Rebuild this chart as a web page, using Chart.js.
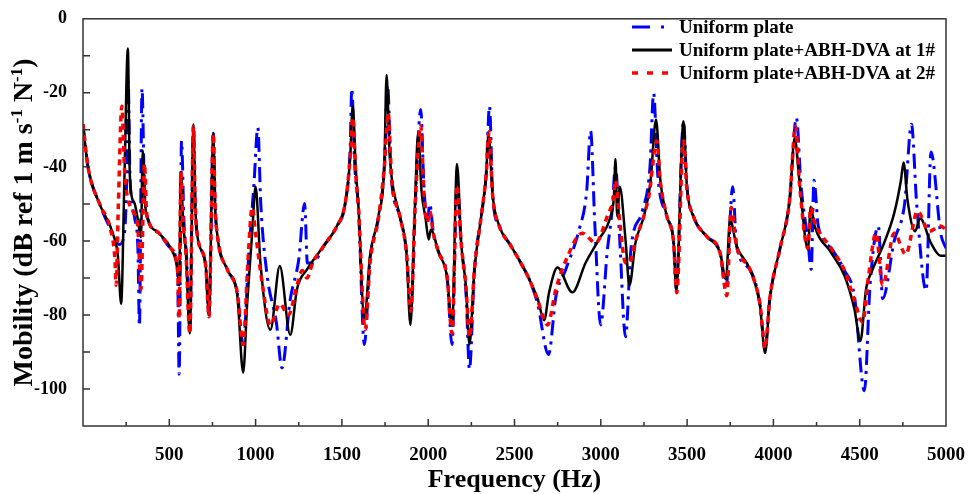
<!DOCTYPE html>
<html>
<head>
<meta charset="utf-8">
<script src="https://cdn.jsdelivr.net/npm/chart.js@4"></script>
<style>
html,body{margin:0;padding:0;background:#fff}
canvas{display:block}
</style>
</head>
<body>
<canvas id="chart" width="975" height="494"></canvas>
<script>
// Data (frequency in Hz, mobility in dB)
const seriesNames = ['Uniform plate', 'Uniform plate+ABH-DVA at 1#', 'Uniform plate+ABH-DVA at 2#'];

const freqPlate = [0,29,96,173,210,240,255,262,272,300,318,327,342,355,375,442,509,548,557,571,585,600,619,640,650,663,711,730,755,765,779,836,894,928,960,990,1013,1030,1067,1120,1153,1200,1250,1284,1300,1330,1394,1471,1519,1548,1557,1575,1596,1630,1663,1711,1746,1765,1785,1836,1874,1900,1925,1957,1975,1995,2009,2030,2060,2110,2138,2167,2191,2220,2239,2268,2307,2336,2355,2374,2412,2480,2537,2585,2634,2697,2740,2797,2874,2918,2941,2965,2999,3037,3065,3085,3110,3143,3175,3240,3285,3306,3330,3383,3422,3437,3479,3499,3537,3614,3691,3725,3764,3787,3864,3922,3952,3979,4037,4094,4133,4160,4200,4219,4235,4260,4335,4412,4469,4527,4560,4608,4633,4700,4760,4800,4830,4885,4913,4969,5000];
const dbPlate   = [-28.5,-40,-50,-58,-61,-58,-40,-17,-42,-54,-62,-83,-18.8,-45,-54,-58,-62,-68,-96,-33,-55,-64,-85,-29,-50,-58.7,-66.7,-80,-31,-50,-58.7,-67.7,-74,-88,-64,-45,-29.4,-50,-69.4,-82,-94.3,-76,-65,-49.9,-66,-66,-61.4,-56,-49.9,-35,-18.8,-40,-51,-88,-65,-54,-40,-18,-42,-53.4,-63,-79,-50,-24.5,-45,-55,-50,-58,-63,-70,-88,-45,-60.5,-75,-94.7,-67.7,-53.4,-42,-23.6,-48,-56,-61.4,-66,-70.3,-77,-90.7,-75,-67.7,-57,-46.6,-30.3,-55,-82.7,-63,-52,-40,-60,-85.9,-62,-52,-40,-20.1,-42,-53.4,-60.5,-73,-27.7,-45.4,-53.4,-58.8,-63.2,-73,-45.4,-61.4,-67.7,-77,-89,-75.6,-62.3,-49,-26.7,-45,-60,-67.7,-43.6,-56,-62,-68,-74.8,-100.5,-72,-56,-75.6,-60,-50,-28.5,-50,-73.4,-36,-57.9,-62];

const freqDva1 = [0,29,96,173,202,221,240,260,270,279,300,317,336,346,360,375,442,509,548,557,567,580,596,619,640,650,663,711,730,755,765,779,836,894,928,951,980,1000,1028,1086,1140,1201,1240,1298,1394,1471,1519,1548,1563,1580,1596,1630,1663,1711,1746,1759,1775,1788,1836,1874,1897,1920,1942,1961,1985,2003,2015,2060,2110,2138,2167,2191,2220,2239,2268,2307,2336,2349,2374,2412,2480,2537,2585,2634,2672,2700,2749,2835,2912,2989,3056,3076,3085,3095,3110,3143,3166,3201,3249,3287,3320,3345,3383,3422,3437,3479,3499,3537,3614,3691,3725,3749,3787,3864,3922,3952,3979,4037,4094,4123,4152,4200,4216,4239,4335,4412,4469,4504,4537,4575,4642,4700,4739,4754,4777,4821,4850,4912,4969,5000];
const dbDva1   = [-28.5,-40,-50,-58,-64,-77,-43,-8,-40,-47,-50,-54,-59,-35.6,-50,-54,-58,-62,-67.7,-72,-41.4,-55,-63,-85,-28.5,-50,-58.7,-66.7,-80,-30.8,-50,-58.7,-67.7,-74.8,-95.6,-77,-58,-45.4,-65.9,-84,-66.8,-85.4,-73,-67.7,-61.4,-56,-49.9,-37.4,-23.6,-40,-50.8,-81,-64,-53.4,-39.2,-15.2,-35,-42.7,-53.4,-63.2,-82.7,-55,-30.8,-46.3,-54,-59.6,-57,-63,-70,-83,-39.2,-60.5,-73,-88,-67.7,-53.4,-41.9,-31.2,-48,-56,-61.4,-66,-70.3,-75.6,-81.4,-74,-67.2,-73.9,-65.9,-59.6,-53.4,-48,-37.9,-53.4,-45.4,-59.6,-72,-60.5,-53.4,-44.5,-27.2,-43.6,-53.4,-60.5,-73.4,-27.7,-45.4,-53.4,-58.8,-63.2,-70.3,-54.3,-61.4,-67.7,-77.4,-90.3,-75.6,-62.3,-49,-32.1,-44.5,-62.3,-50.8,-56,-63.2,-69.4,-78.3,-87,-73,-67.7,-60.5,-52.5,-43.6,-38.8,-49,-57.4,-53.9,-60.5,-64,-64];

const freqDva2 = [0,29,96,160,185,192,205,225,240,250,290,317,336,356,368,375,442,509,548,557,567,580,596,619,640,650,663,711,730,755,765,779,836,894,928,955,980,1000,1040,1086,1140,1190,1240,1270,1298,1330,1394,1471,1519,1548,1563,1580,1596,1635,1663,1711,1746,1768,1788,1836,1874,1900,1925,1957,1975,1995,2009,2030,2060,2110,2138,2167,2191,2220,2239,2268,2307,2336,2352,2374,2412,2480,2537,2585,2634,2691,2740,2800,2893,2970,3040,3075,3085,3110,3143,3165,3201,3278,3325,3345,3383,3422,3440,3479,3499,3537,3614,3691,3730,3755,3787,3864,3922,3952,3979,4037,4094,4128,4152,4200,4216,4239,4335,4412,4469,4517,4550,4594,4633,4700,4767,4835,4902,4969,5000];
const dbDva2   = [-28.5,-40,-50,-57,-65,-72,-50,-23.6,-40,-46,-52,-56,-73,-39.2,-52,-54,-58,-62,-68,-81,-41.4,-55,-63,-85,-29,-50,-58.7,-66.7,-80.5,-31,-50,-58.7,-67.7,-74,-88,-66,-51,-58,-72,-82.7,-77,-80,-72,-68,-70,-66,-61.4,-56,-49.9,-37.4,-26.7,-42,-51,-84,-66,-54,-40,-25.4,-43,-53.4,-63,-79,-50,-28.8,-47,-55,-52,-58,-63,-70,-85,-45,-60.5,-73,-86,-67.7,-53.4,-42,-30.5,-48,-56,-61.4,-66,-70.3,-76,-82.7,-73,-65,-57.9,-60.5,-53,-48,-43.6,-55,-65.9,-66,-60,-48,-33,-44,-53.4,-60.5,-74,-33,-46,-53.4,-58.8,-63.2,-74.8,-51,-61.4,-67.7,-77,-89,-75.6,-62.3,-49,-29,-45,-62,-51,-55,-62,-68,-76,-81.9,-70,-57.9,-72,-57.9,-63.6,-52,-57.4,-56,-57];

const xTickValues = [500,1000,1500,2000,2500,3000,3500,4000,4500,5000];
const yTickValues = [0,-20,-40,-60,-80,-100];

const pts = (f, d) => f.map((v, i) => ({x: v, y: d[i]}));
const serif = "'Liberation Serif','Times New Roman',serif";

// frame, inward ticks, titles and legend
const decor = {
  id: 'decor',
  afterDraw(chart) {
    const {ctx, chartArea: a, scales: {x, y}} = chart;
    ctx.save();
    ctx.strokeStyle = '#333';
    ctx.lineWidth = 1.5;
    ctx.strokeRect(a.left, a.top, a.right - a.left, a.bottom - a.top);
    ctx.beginPath();
    for (let v = 250; v < 5000; v += 250) {
      const px = x.getPixelForValue(v), len = v % 500 === 0 ? 7 : 4;
      ctx.moveTo(px, a.bottom); ctx.lineTo(px, a.bottom - len);
    }
    for (let v = -100; v <= -10; v += 10) {
      const py = y.getPixelForValue(v);
      ctx.moveTo(a.left, py); ctx.lineTo(a.left + 7, py);
    }
    ctx.stroke();

    // x title
    ctx.fillStyle = '#000';
    ctx.font = 'bold 26px ' + serif;
    ctx.textAlign = 'center';
    ctx.textBaseline = 'alphabetic';
    ctx.fillText('Frequency (Hz)', (a.left + a.right) / 2, 487);

    // y title with superscripts
    const parts = [['Mobility (dB ref 1 m s', 0], ['-1', 1], [' N', 0], ['-1', 1], [')', 0]];
    const big = 'bold 28px ' + serif, small = 'bold 17px ' + serif;
    let total = 0;
    parts.forEach(p => { ctx.font = p[1] ? small : big; total += ctx.measureText(p[0]).width; });
    ctx.translate(32, (a.top + a.bottom) / 2);
    ctx.rotate(-Math.PI / 2);
    ctx.textAlign = 'left';
    let cx = -total / 2;
    parts.forEach(p => {
      ctx.font = p[1] ? small : big;
      ctx.fillText(p[0], cx, p[1] ? -10 : 0);
      cx += ctx.measureText(p[0]).width;
    });
    ctx.setTransform(1, 0, 0, 1, 0, 0);

    // legend
    const rows = [27, 50, 73];
    ctx.font = 'bold 19px ' + serif;
    ctx.textBaseline = 'middle';
    ctx.textAlign = 'left';
    seriesNames.forEach((n, i) => ctx.fillText(n, 679, rows[i] + 1));
    ctx.lineCap = 'butt';
    ctx.strokeStyle = '#0000ff'; ctx.lineWidth = 3;
    ctx.beginPath(); ctx.moveTo(632, rows[0]); ctx.lineTo(650, rows[0]);
    ctx.moveTo(661, rows[0]); ctx.lineTo(664, rows[0]); ctx.stroke();
    ctx.strokeStyle = '#000'; ctx.lineWidth = 3;
    ctx.beginPath(); ctx.moveTo(632, rows[1]); ctx.lineTo(672, rows[1]); ctx.stroke();
    ctx.strokeStyle = '#ff0000'; ctx.lineWidth = 3.5;
    ctx.beginPath();
    [632, 647, 662].forEach(s => { ctx.moveTo(s, rows[2]); ctx.lineTo(s + 6, rows[2]); });
    ctx.stroke();
    ctx.restore();
  }
};

new Chart(document.getElementById('chart'), {
  type: 'line',
  data: {
    datasets: [
      {label: seriesNames[0], data: pts(freqPlate, dbPlate), borderColor: '#0000ff', borderWidth: 3, borderDash: [15, 6, 3, 6], order: 3},
      {label: seriesNames[1], data: pts(freqDva1, dbDva1), borderColor: '#000000', borderWidth: 2.5, order: 2},
      {label: seriesNames[2], data: pts(freqDva2, dbDva2), borderColor: '#ff0000', borderWidth: 3.5, borderDash: [6, 5], order: 1}
    ]
  },
  options: {
    responsive: false,
    devicePixelRatio: 1,
    animation: false,
    layout: {padding: {top: 13, right: 24, left: 0, bottom: 0}},
    elements: {point: {radius: 0}, line: {cubicInterpolationMode: 'monotone', fill: false}},
    plugins: {legend: {display: false}, tooltip: {enabled: false}},
    scales: {
      x: {
        type: 'linear', min: 0, max: 5000,
        afterFit: s => { s.height = 68; },
        afterBuildTicks: s => { s.ticks = xTickValues.map(v => ({value: v})); },
        grid: {display: false}, border: {display: false},
        ticks: {padding: 10, color: '#000', font: {family: serif, size: 19, weight: 'bold'}, maxRotation: 0, autoSkip: false,
          callback: v => String(v)}
      },
      y: {
        min: -110, max: 0,
        afterFit: s => { s.width = 83; },
        afterBuildTicks: s => { s.ticks = yTickValues.map(v => ({value: v})); },
        grid: {display: false}, border: {display: false},
        ticks: {padding: 8, color: '#000', font: {family: serif, size: 18, weight: 'bold'}, callback: v => String(v)}
      }
    }
  },
  plugins: [decor]
});
</script>
</body>
</html>
